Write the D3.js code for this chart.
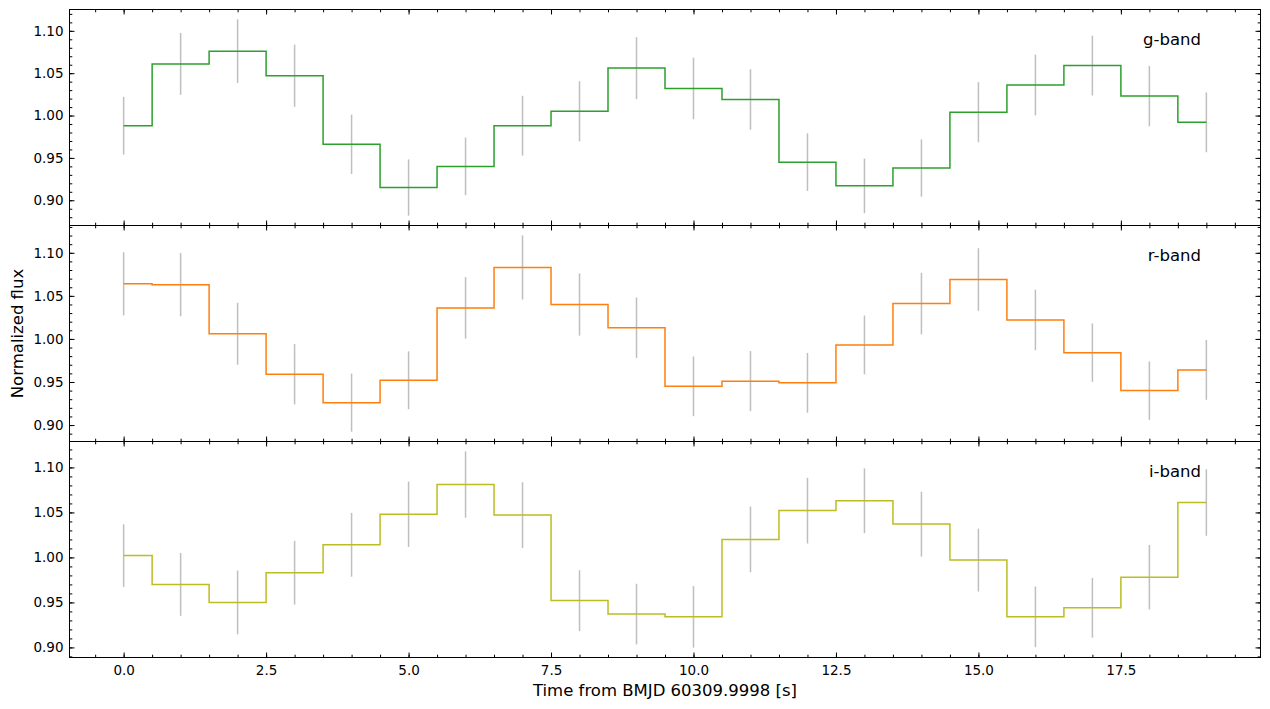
<!DOCTYPE html>
<html>
<head>
<meta charset="utf-8">
<script src="https://cdn.jsdelivr.net/npm/d3@7"></script>
<style>
  body { margin: 0; background: #fff; }
  text { font-family: "DejaVu Sans", sans-serif; fill: #000; }
</style>
</head>
<body>
<div id="chart"></div>
<script>
// data (time bins, flux, 1-sigma errors)
const times = d3.range(0, 20);

const gFlux = [0.988, 1.061, 1.076, 1.047, 0.966, 0.915, 0.940, 0.988, 1.005, 1.056,
               1.032, 1.019, 0.945, 0.917, 0.938, 1.004, 1.036, 1.059, 1.023, 0.992];
const gErr  = [0.034, 0.0365, 0.0376, 0.0367, 0.035, 0.0332, 0.034, 0.0353, 0.0355, 0.0365,
               0.0363, 0.0357, 0.034, 0.0322, 0.0338, 0.0355, 0.0359, 0.0353, 0.0357, 0.0353];

const rFlux = [1.064, 1.063, 1.006, 0.959, 0.926, 0.952, 1.036, 1.083, 1.040, 1.013,
               0.945, 0.951, 0.949, 0.993, 1.041, 1.069, 1.022, 0.984, 0.940, 0.964];
const rErr  = [0.0367, 0.0366, 0.036, 0.035, 0.0337, 0.0336, 0.0357, 0.0373, 0.0361, 0.0351,
               0.0347, 0.0349, 0.0347, 0.0341, 0.0357, 0.0363, 0.0351, 0.0339, 0.0339, 0.0347];

const iFlux = [1.002, 0.970, 0.950, 0.983, 1.014, 1.048, 1.081, 1.047, 0.952, 0.937,
               0.934, 1.020, 1.052, 1.063, 1.037, 0.997, 0.934, 0.944, 0.978, 1.061];
const iErr  = [0.0348, 0.0349, 0.0354, 0.0354, 0.0354, 0.0363, 0.0369, 0.0365, 0.0338, 0.0337,
               0.0343, 0.0365, 0.0365, 0.036, 0.036, 0.0349, 0.0337, 0.0332, 0.0358, 0.037];

const bandNames  = ["g-band", "r-band", "i-band"];
const bandColors = ["#2ca02c", "#ff7f0e", "#bcbd22"];
const bandFlux   = [gFlux, rFlux, iFlux];
const bandErr    = [gErr, rErr, iErr];

const xMajor = [0, 2.5, 5, 7.5, 10, 12.5, 15, 17.5];
const yMajor = [0.90, 0.95, 1.00, 1.05, 1.10];

// layout
const W = 1270, H = 709;
const left = 69.5, right = 1260.5, top0 = 9.5, panelH = 216;

const svg = d3.select("#chart").append("svg")
  .attr("width", W).attr("height", H);

// x scale with matplotlib-like 5% margins
const xPad = (d3.max(times) - d3.min(times)) * 0.05;
const x = d3.scaleLinear()
  .domain([d3.min(times) - xPad, d3.max(times) + xPad])
  .range([left, right]);

const xMinor = d3.range(-0.5, 20, 0.5).filter(v => v >= x.domain()[0] && v <= x.domain()[1]);

bandNames.forEach((name, k) => {
  const flux = bandFlux[k], err = bandErr[k];
  const pTop = top0 + k * panelH, pBot = pTop + panelH;

  const lo = d3.min(flux, (v, i) => v - err[i]);
  const hi = d3.max(flux, (v, i) => v + err[i]);
  const yPad = (hi - lo) * 0.05;
  const y = d3.scaleLinear().domain([lo - yPad, hi + yPad]).range([pBot, pTop]);

  const yMinor = d3.range(80, 120).map(v => v / 100)
    .filter(v => v >= y.domain()[0] && v <= y.domain()[1]);

  const g = svg.append("g");

  // error bars
  g.selectAll(".err")
    .data(times)
    .join("line")
    .attr("x1", d => x(d)).attr("x2", d => x(d))
    .attr("y1", (d, i) => y(flux[i] - err[i]))
    .attr("y2", (d, i) => y(flux[i] + err[i]))
    .attr("stroke", "#808080")
    .attr("stroke-opacity", 0.5)
    .attr("stroke-width", 1.5);

  // step curve (where='mid')
  const line = d3.line()
    .x((d, i) => x(times[i]))
    .y(d => y(d))
    .curve(d3.curveStep);
  g.append("path")
    .datum(flux)
    .attr("d", line)
    .attr("fill", "none")
    .attr("stroke", bandColors[k])
    .attr("stroke-width", 1.5);

  // axes: ticks pointing inward on all four sides
  const addAxis = (axis, tx, ty, showLabels) => {
    const a = g.append("g")
      .attr("transform", `translate(${tx},${ty})`)
      .call(axis);
    a.select(".domain").remove();
    a.selectAll("line").attr("stroke", "#000").attr("stroke-width", 1);
    a.selectAll("text").style("font-size", "13.5px").style("font-family", "DejaVu Sans");
    if (!showLabels) a.selectAll("text").remove();
    return a;
  };

  const isBottom = k === bandNames.length - 1;

  addAxis(d3.axisBottom(x).tickValues(xMajor).tickFormat(d3.format(".1f"))
    .tickSizeInner(-5).tickSizeOuter(0).tickPadding(8), 0, pBot, isBottom);
  addAxis(d3.axisBottom(x).tickValues(xMinor).tickFormat("")
    .tickSizeInner(-2.8).tickSizeOuter(0), 0, pBot, false);
  addAxis(d3.axisTop(x).tickValues(xMajor).tickFormat("")
    .tickSizeInner(-5).tickSizeOuter(0), 0, pTop, false);
  addAxis(d3.axisTop(x).tickValues(xMinor).tickFormat("")
    .tickSizeInner(-2.8).tickSizeOuter(0), 0, pTop, false);

  addAxis(d3.axisLeft(y).tickValues(yMajor).tickFormat(d3.format(".2f"))
    .tickSizeInner(-5).tickSizeOuter(0).tickPadding(6), left, 0, true);
  addAxis(d3.axisLeft(y).tickValues(yMinor).tickFormat("")
    .tickSizeInner(-2.8).tickSizeOuter(0), left, 0, false);
  addAxis(d3.axisRight(y).tickValues(yMajor).tickFormat("")
    .tickSizeInner(-5).tickSizeOuter(0), right, 0, false);
  addAxis(d3.axisRight(y).tickValues(yMinor).tickFormat("")
    .tickSizeInner(-2.8).tickSizeOuter(0), right, 0, false);

  // frame
  g.append("rect")
    .attr("x", left).attr("y", pTop)
    .attr("width", right - left).attr("height", panelH)
    .attr("fill", "none").attr("stroke", "#000").attr("stroke-width", 1);

  // band label
  g.append("text")
    .attr("x", left + (right - left) * 0.95)
    .attr("y", pBot - panelH * 0.9)
    .attr("dy", "0.83em")
    .attr("text-anchor", "end")
    .style("font-size", "16.5px")
    .text(name);
});

// axis titles
svg.append("text")
  .attr("x", (left + right) / 2)
  .attr("y", 696)
  .attr("text-anchor", "middle")
  .style("font-size", "16.5px")
  .text("Time from BMJD 60309.9998 [s]");

svg.append("text")
  .attr("transform", `translate(23,${top0 + panelH * 1.5}) rotate(-90)`)
  .attr("text-anchor", "middle")
  .style("font-size", "16.5px")
  .text("Normalized flux");
</script>
</body>
</html>
